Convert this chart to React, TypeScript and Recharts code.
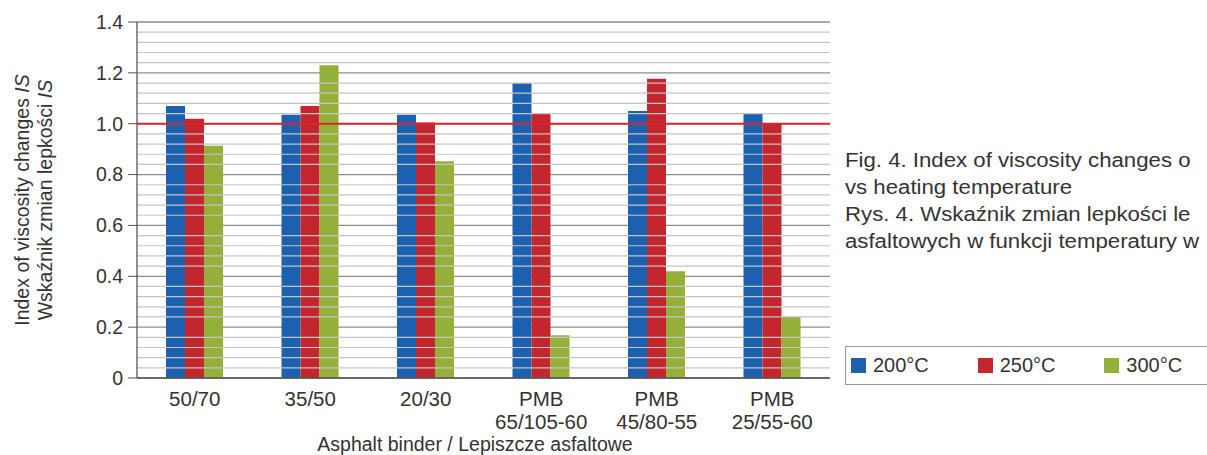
import React from 'react';
import { BarChart, Bar, XAxis, YAxis, CartesianGrid, ReferenceLine, Customized } from 'recharts';

const binders = ['50/70', '35/50', '20/30', 'PMB 65/105-60', 'PMB 45/80-55', 'PMB 25/55-60'];
const s200 = [1.07, 1.035, 1.035, 1.16, 1.05, 1.04];
const s250 = [1.02, 1.07, 1.005, 1.04, 1.177, 1.003];
const s300 = [0.913, 1.23, 0.852, 0.168, 0.42, 0.24];
const yTicks = [0, 0.2, 0.4, 0.6, 0.8, 1.0, 1.2, 1.4];
// caption as far as it is visible in the reference (it runs off the right edge)
const captionLines = [
  'Fig. 4. Index of viscosity changes o',
  'vs heating temperature',
  'Rys. 4. Wskaźnik zmian lepkości le',
  'asfaltowych w funkcji temperatury w',
];

const series = [
  { key: 's200', name: '200°C', color: '#1c61b0' },
  { key: 's250', name: '250°C', color: '#c4262e' },
  { key: 's300', name: '300°C', color: '#94b03a' },
];

const data = binders.map((b, i) => ({ binder: b, s200: s200[i], s250: s250[i], s300: s300[i] }));

// minor gridlines every 0.04 between the 0.2 majors
const minorLines: number[] = [];
for (let i = 1; i < 35; i++) {
  if (i % 5 !== 0) minorLines.push(Math.round(i * 0.04 * 100) / 100);
}

const font = '"Liberation Sans", Arial, sans-serif';

const BinderTick = (props: any) => {
  const { x, y, payload } = props;
  const parts = String(payload.value).split(' ');
  return (
    <text x={x} textAnchor="middle" fill="#333" fontSize={20.5} fontFamily={font}>
      {parts.map((p, i) => (
        <tspan key={i} x={x} y={y + 26 + i * 23}>{p}</tspan>
      ))}
    </text>
  );
};

const AxisTitles = () => (
  <g fontFamily={font} fontSize={19.5} fill="#333">
    <text transform="translate(29,200) rotate(-90)" textAnchor="middle">
      Index of viscosity changes <tspan fontStyle="italic">IS</tspan>
    </text>
    <text transform="translate(52,200) rotate(-90)" textAnchor="middle">
      Wskaźnik zmian lepkości <tspan fontStyle="italic">IS</tspan>
    </text>
    <text x={475} y={451} textAnchor="middle">Asphalt binder / Lepiszcze asfaltowe</text>
  </g>
);

export default function App() {
  return (
    <div style={{ position: 'absolute', left: 0, top: 0, width: 1207, height: 455, overflow: 'hidden', background: '#fff' }}>
      <BarChart
        width={1207}
        height={455}
        data={data}
        margin={{ top: 22, right: 377, left: 77, bottom: 7 }}
        barCategoryGap={29}
        barGap={0}
      >
        <CartesianGrid vertical={false} stroke="#8c8c8c" strokeWidth={1.3} />
        {minorLines.map((v) => (
          <ReferenceLine key={v} y={v} stroke="#c4c4c4" strokeWidth={1.2} />
        ))}
        <XAxis
          dataKey="binder"
          height={70}
          tickLine={false}
          tickSize={0}
          tick={<BinderTick />}
          interval={0}
          axisLine={{ stroke: '#555', strokeWidth: 1.3 }}
        />
        <YAxis
          width={60}
          domain={[0, 1.4]}
          ticks={yTicks}
          interval={0}
          tickFormatter={(v: number) => (v === 0 ? '0' : v.toFixed(1))}
          tick={{ fill: '#333', fontSize: 19.5, fontFamily: font }}
          tickSize={9}
          tickMargin={5}
          tickLine={{ stroke: '#555' }}
          axisLine={{ stroke: '#555', strokeWidth: 1.3 }}
        />
        {series.map((s) => (
          <Bar key={s.key} dataKey={s.key} name={s.name} fill={s.color} isAnimationActive={false} />
        ))}
        <ReferenceLine y={1} stroke="#d9262c" strokeWidth={2} />
        <Customized component={<AxisTitles />} />
      </BarChart>
      <div style={{ position: 'absolute', left: 845, top: 147, fontFamily: font, fontSize: 20, lineHeight: '27px', color: '#333', whiteSpace: 'nowrap', transform: 'scaleX(1.11)', transformOrigin: 'left top' }}>
        {captionLines.map((l, i) => (
          <div key={i}>{l}</div>
        ))}
      </div>
      <div style={{ position: 'absolute', left: 845, top: 346, border: '1px solid #999', height: 37, width: 380, display: 'flex', alignItems: 'center', fontFamily: font, fontSize: 20, color: '#333' }}>
        {series.map((s) => (
          <div key={s.key} style={{ display: 'flex', alignItems: 'center', width: 137, paddingLeft: 5, boxSizing: 'border-box' }}>
            <span style={{ display: 'inline-block', width: 15, height: 15, background: s.color, marginRight: 7 }} />
            {s.name}
          </div>
        ))}
      </div>
    </div>
  );
}
